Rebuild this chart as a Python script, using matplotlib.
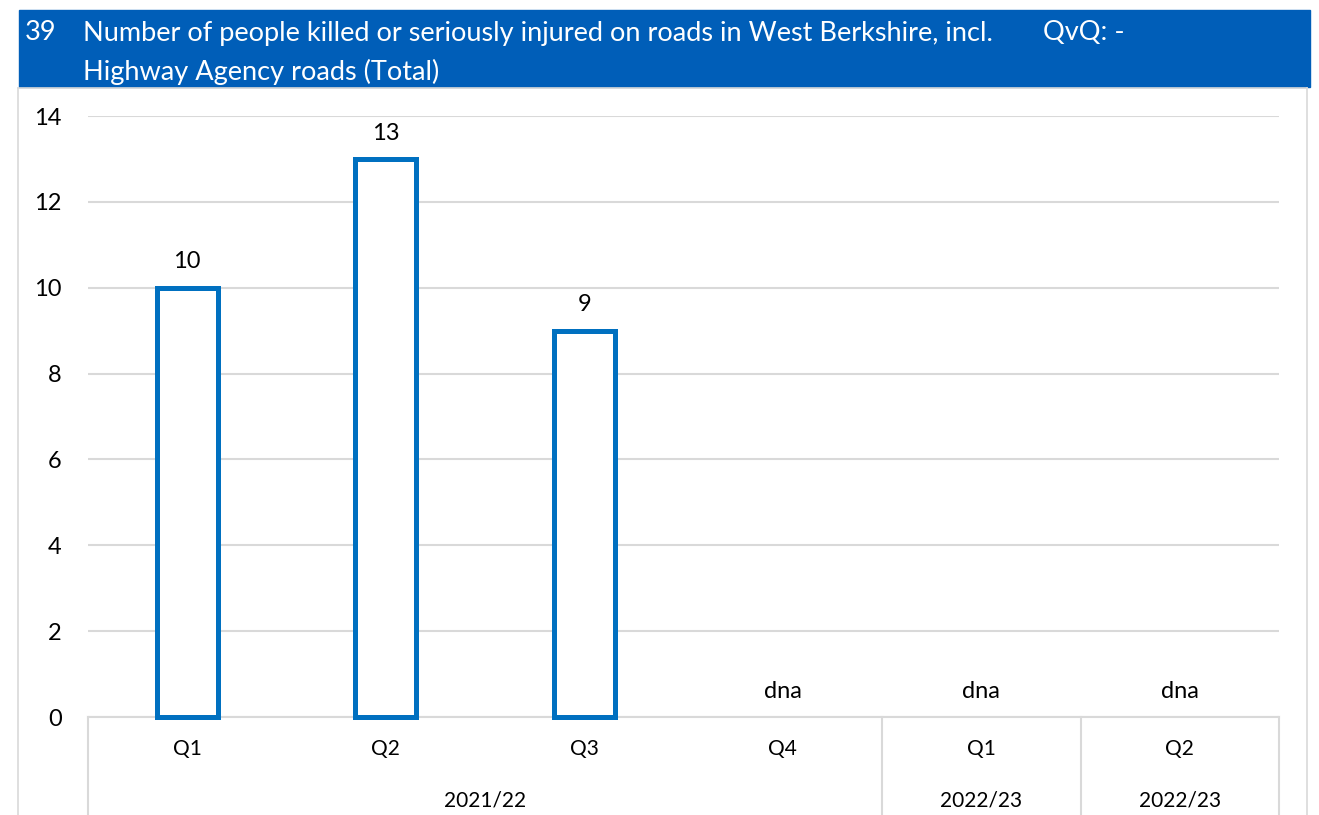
import numpy as np
import matplotlib.pyplot as plt
from matplotlib.patches import Rectangle
from matplotlib.lines import Line2D

plt.rcParams['font.family'] = ['Lato', 'DejaVu Sans']

# data
quarters = ['Q1', 'Q2', 'Q3', 'Q4', 'Q1', 'Q2']
years = ['2021/22', '2022/23', '2022/23']
year_spans = [(0, 3), (4, 4), (5, 5)]   # first and last quarter index of each year group
values = [10, 13, 9, np.nan, np.nan, np.nan]
title_num = '39'
title_lines = ['Number of people killed or seriously injured on roads in West Berkshire, incl.',
               'Highway Agency roads (Total)']
qvq = 'QvQ: -'

W, H = 1319, 815
fig = plt.figure(figsize=(W / 100, H / 100), dpi=100)

def fx(x):
    return x / W

def fy(y):
    return 1 - y / H

blue = '#005EB8'
barblue = '#0070C0'
grey = '#D9D9D9'

# title band
fig.patches.append(Rectangle((fx(19), fy(87)), fx(1310) - fx(19), fy(10) - fy(87),
                             transform=fig.transFigure, color=blue, zorder=0))
fig.text(fx(25), fy(33), title_num, color='white', fontsize=19.5, va='center')
fig.text(fx(83), fy(33), title_lines[0], color='white', fontsize=19.5, va='center')
fig.text(fx(83), fy(72), title_lines[1], color='white', fontsize=19.5, va='center')
fig.text(fx(1043), fy(33), qvq, color='white', fontsize=19.5, va='center')

# outer chart border
for xs, ys in [([18, 18], [88, 815]), ([1307, 1307], [88, 815]), ([18, 1307], [88, 88])]:
    fig.add_artist(Line2D([fx(x) for x in xs], [fy(y) for y in ys], color=grey, lw=1.2))

x0, x1, ytop, ybot = 88, 1279, 116, 717
ax = fig.add_axes([fx(x0), fy(ybot), fx(x1) - fx(x0), fy(ytop) - fy(ybot)])
x = np.arange(len(quarters))
bars = ax.bar(x, values, width=0.307, facecolor='white', edgecolor=barblue, linewidth=3.6, zorder=3)
for b in bars:
    b.set_clip_on(False)

for xi, v in zip(x, values):
    label = 'dna' if np.isnan(v) else f'{int(v)}'
    ax.annotate(label, (xi, 0 if np.isnan(v) else v), xytext=(0, 11), textcoords='offset points',
                ha='center', va='bottom', fontsize=17)

ax.set_xlim(-0.5, len(quarters) - 0.5)
ax.set_ylim(0, 14)
ax.set_yticks(range(0, 15, 2))
ax.yaxis.grid(True, color=grey, lw=1.5, zorder=0)
ax.set_axisbelow(True)
for s in ['top', 'right', 'left']:
    ax.spines[s].set_visible(False)
ax.spines['bottom'].set_color(grey)
ax.spines['bottom'].set_linewidth(1.5)
ax.tick_params(axis='y', length=0, pad=19, labelsize=17)
ax.set_xticks([])

# two-level category axis
for xi, q in zip(x, quarters):
    ax.text(xi, -0.74, q, ha='center', va='center', fontsize=15, clip_on=False)
bounds = sorted({s - 0.5 for s, e in year_spans} | {e + 0.5 for s, e in year_spans})
for bx in bounds:
    ax.add_line(Line2D([bx, bx], [0, -2.25], color=grey, lw=1.5, clip_on=False))
for (s, e), yr in zip(year_spans, years):
    ax.text((s + e) / 2, -1.94, yr, ha='center', va='center', fontsize=15, clip_on=False)

fig.savefig('out.png', dpi=100)
